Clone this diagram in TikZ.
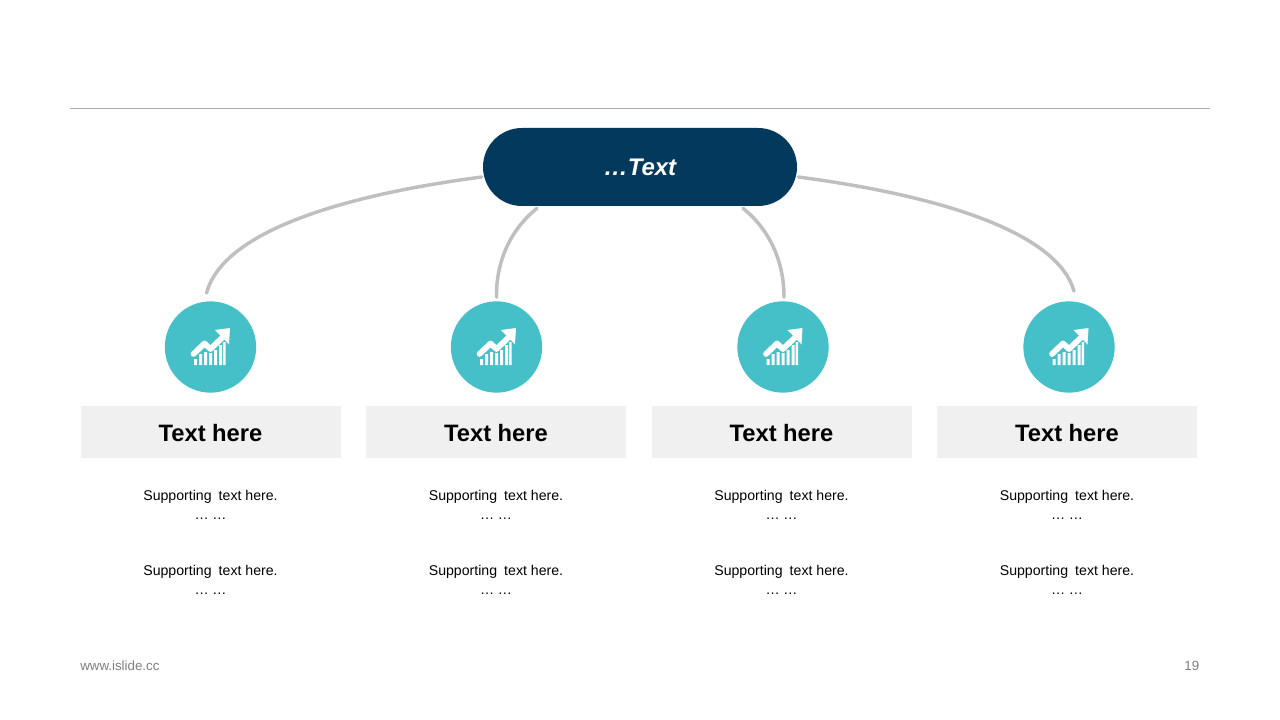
\documentclass[tikz,border=0pt]{standalone}
\usepackage{fontspec}
\setmainfont{Liberation Sans}
\usetikzlibrary{shapes.misc,calc}
\definecolor{navy}{HTML}{03395C}
\definecolor{teal2}{HTML}{45BFC8}
\definecolor{conn}{HTML}{BFBFBF}
\definecolor{rulec}{HTML}{ABABAB}
\definecolor{band}{HTML}{F0F0F0}
\definecolor{foot}{HTML}{7F7F7F}
\tikzset{
  x=0.75pt,y=-0.75pt,
  pill/.style={rounded rectangle,fill=navy,minimum width=235.5pt,minimum height=58.5pt,inner sep=0pt,text=white,font=\fontsize{18}{20}\selectfont\bfseries\itshape},
  disc/.style={circle,fill=teal2,minimum size=68.5pt,inner sep=0pt},
  bandbox/.style={rectangle,fill=band,minimum width=195pt,minimum height=38.5pt,inner sep=0pt},
  bandtext/.style={inner sep=0pt,font=\fontsize{17.8}{20}\selectfont\bfseries},
  support/.style={align=center,inner sep=0pt,font=\fontsize{10.6}{14.6}\selectfont},
  link/.style={draw=conn,line width=2.6pt,line cap=round},
  footer/.style={inner sep=0pt,text=foot,font=\fontsize{10}{12}\selectfont},
  pics/growth/.style={code={
    \fill[white] (-16.5,18) rectangle (-13.5,12) (-11.5,18) rectangle (-8.5,7) (-6.5,18) rectangle (-3.5,5)
      (-1.5,18) rectangle (1.5,6) (3.5,18) rectangle (6.5,3) (8.5,18) rectangle (11.5,-2) (12.5,18) rectangle (15,-5);
    \draw[white,line width=4.3pt,line cap=round,line join=round] (-17,7) -- (-6,-3.5) -- (0,2) -- (13,-10.5);
    \fill[white] (4.5,-17) -- (19.5,-19) -- (18.5,-2.5) -- cycle;
  }}
}
\newcommand{\supp}{Supporting\hspace{0.22em} text here.\\[0pt]…\hspace{0.25em}…}
\begin{document}
\begin{tikzpicture}
\useasboundingbox (0,0) rectangle (1280,720);
\fill[white] (0,0) rectangle (1280,720);
\coordinate (ruleL) at (70,108.5);
\coordinate (ruleR) at (1210,108.5);
\draw[rulec,line width=0.75pt] (ruleL) -- (ruleR);

\node[pill] (top) at (640,167) {\raisebox{-0.5pt}{…Text}};

\foreach \i/\cx/\bx in {1/210.5/210.5,2/496.5/496,3/783/781.5,4/1069/1067}{
  \node[disc] (d\i) at (\cx,347) {};
  \pic at (d\i.center) {growth};
  \node[bandbox] (b\i) at (\bx,432) {};
  \node[bandtext] (h\i) at (\bx,433) {Text here};
  \node[support] (s\i) at (\bx,505) {\supp};
  \node[support] (t\i) at (\bx,580) {\supp};
}

\draw[link] ($(top.west)+(-1,10)$) .. controls (330,197) and (222,235) .. ($(d1.north)+(-4,-8)$);
\draw[link] ($(top.south)+(-103,2)$) .. controls (510,230) and (496,262) .. ($(d2.north)+(0,-4)$);
\draw[link] ($(top.south)+(103,2)$) .. controls (770,230) and (784,262) .. ($(d3.north)+(1,-4)$);
\draw[link] ($(top.east)+(1,10)$) .. controls (950,197) and (1058,235) .. ($(d4.north)+(5,-10)$);

\node[footer,anchor=west] (site) at (80,666) {www.islide.cc};
\node[footer,anchor=east] (page) at (1199.5,666) {19};
\end{tikzpicture}
\end{document}
